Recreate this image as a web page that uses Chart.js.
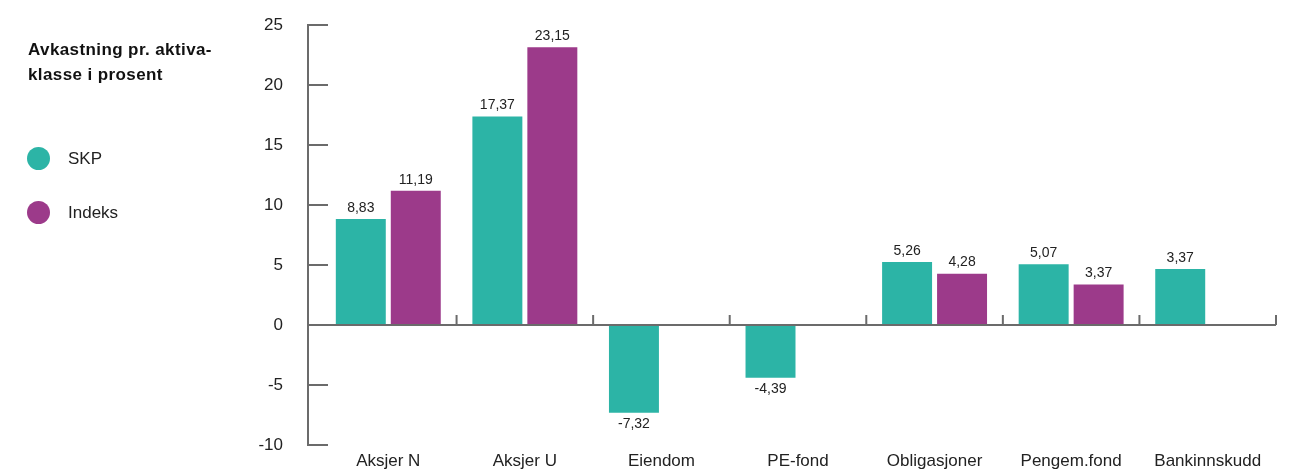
<!DOCTYPE html>
<html>
<head>
<meta charset="utf-8">
<script src="https://cdn.jsdelivr.net/npm/chart.js@4/dist/chart.umd.min.js"></script>
<style>
  html, body { margin: 0; padding: 0; overflow: hidden; background: #fff; font-family: "Liberation Sans", Arial, sans-serif; }
  #wrap { position: relative; width: 1300px; height: 470px; }
  #myChart { display: block; }
  #title { position: absolute; left: 28px; top: 37px; font-weight: bold; font-size: 17px; letter-spacing: 0.4px; line-height: 25px; color: #111; }
  .leg { position: absolute; left: 27px; font-size: 17px; color: #222; height: 23px; line-height: 23px; }
  .leg span { display: inline-block; width: 23px; height: 23px; border-radius: 50%; vertical-align: top; margin-right: 18px; }
</style>
</head>
<body>
<div id="wrap">
  <canvas id="myChart"></canvas>
  <div id="title">Avkastning pr. aktiva-<br>klasse i prosent</div>
  <div class="leg" style="top:147px"><span style="background:#2cb4a6"></span>SKP</div>
  <div class="leg" style="top:201px"><span style="background:#9c3a8a"></span>Indeks</div>
</div>
<script>
// Avkastning pr. aktivaklasse

const categories = ["Aksjer N", "Aksjer U", "Eiendom", "PE-fond", "Obligasjoner", "Pengem.fond", "Bankinnskudd"];
const skp = [8.83, 17.37, -7.32, -4.39, 5.26, 5.07, 4.67];
const skpLabels = ["8,83", "17,37", "-7,32", "-4,39", "5,26", "5,07", "3,37"];
const indeks = [11.19, 23.15, null, null, 4.28, 3.37, null];
const indeksLabels = ["11,19", "23,15", "", "", "4,28", "3,37", ""];
const yTicks = [-10, -5, 0, 5, 10, 15, 20, 25];

const axisColor = "#6b6b6b";
const fontFamily = "'Liberation Sans', Arial, sans-serif";

const axesAndLabels = {
  id: "axesAndLabels",
  afterDatasetsDraw(chart) {
    const ctx = chart.ctx;
    const x = chart.scales.x;
    const y = chart.scales.y;
    const axisX = chart.chartArea.left - 12;
    const zero = y.getPixelForValue(0);
    ctx.save();
    ctx.strokeStyle = axisColor;
    ctx.lineWidth = 2;
    // y axis, ticks go to the right
    ctx.beginPath();
    ctx.moveTo(axisX, y.getPixelForValue(25) - 1);
    ctx.lineTo(axisX, y.getPixelForValue(-10) + 1);
    yTicks.forEach(v => {
      const py = y.getPixelForValue(v);
      ctx.moveTo(axisX - 1, py);
      ctx.lineTo(axisX + 20, py);
    });
    // zero line
    ctx.moveTo(axisX, zero);
    ctx.lineTo(chart.chartArea.right, zero);
    // small ticks between categories
    const half = (x.getPixelForValue(1) - x.getPixelForValue(0)) / 2;
    for (let i = 0; i < categories.length; i++) {
      const px = x.getPixelForValue(i) + half;
      ctx.moveTo(px, zero - 10);
      ctx.lineTo(px, zero);
    }
    ctx.stroke();

    // value labels
    ctx.fillStyle = "#222";
    ctx.font = "14px " + fontFamily;
    ctx.textAlign = "center";
    const lists = [skpLabels, indeksLabels];
    chart.data.datasets.forEach((ds, di) => {
      chart.getDatasetMeta(di).data.forEach((bar, i) => {
        if (ds.data[i] == null) return;
        const txt = lists[di][i];
        if (ds.data[i] >= 0) {
          ctx.textBaseline = "bottom";
          ctx.fillText(txt, bar.x, bar.y - 4);
        } else {
          ctx.textBaseline = "top";
          ctx.fillText(txt, bar.x, bar.y + 4);
        }
      });
    });
    ctx.restore();
  }
};

new Chart(document.getElementById("myChart"), {
  type: "bar",
  data: {
    labels: categories,
    datasets: [
      { label: "SKP", data: skp, backgroundColor: "#2cb4a6" },
      { label: "Indeks", data: indeks, backgroundColor: "#9c3a8a" }
    ]
  },
  options: {
    responsive: true,
    maintainAspectRatio: false,
    animation: false,
    categoryPercentage: 0.805,
    barPercentage: 0.909,
    layout: { padding: { left: 0, right: 24, top: 25, bottom: 0 } },
    plugins: { legend: { display: false }, tooltip: { enabled: false } },
    scales: {
      x: {
        grid: { display: false, drawTicks: false },
        border: { display: false },
        ticks: { color: "#222", font: { size: 17, family: fontFamily }, padding: 6, maxRotation: 0, autoSkip: false },
        afterFit: s => { s.height = 25; }
      },
      y: {
        min: -10,
        max: 25,
        grid: { display: true, drawOnChartArea: false, drawTicks: true, tickLength: 33, color: "rgba(0,0,0,0)" },
        border: { display: false },
        ticks: { stepSize: 5, color: "#222", font: { size: 17, family: fontFamily }, padding: 4 },
        afterFit: s => { s.width = 320; }
      }
    }
  },
  plugins: [axesAndLabels]
});
</script>
</body>
</html>
